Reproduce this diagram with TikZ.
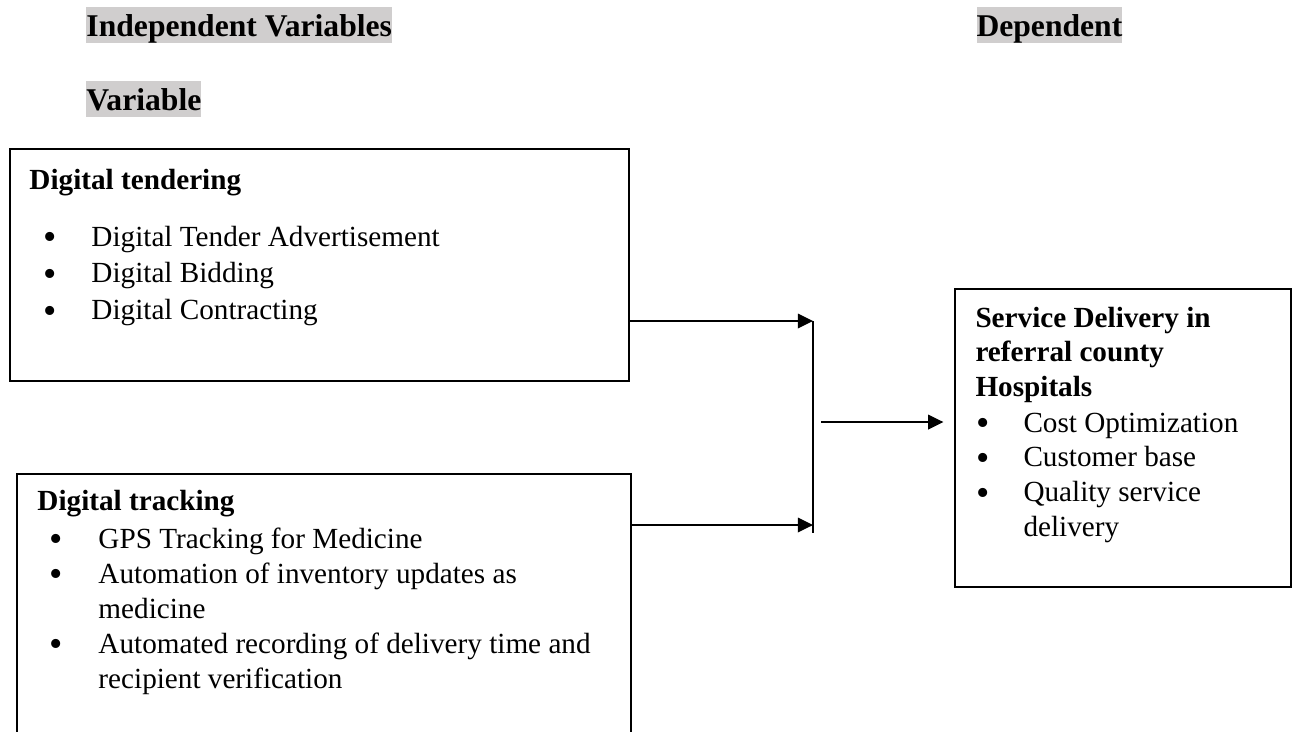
\documentclass[tikz,border=0pt]{standalone}
\usepackage{fontspec}
\setmainfont{Liberation Serif}
\usetikzlibrary{arrows.meta, positioning, fit}
\definecolor{hlgray}{RGB}{208,206,206}
\newlength\pxu
\setlength\pxu{0.411pt}
\newcommand{\bul}{\smash{\raisebox{-1.4pt}{\scalebox{1.3}{\textbullet}}}}

\begin{document}
\begin{tikzpicture}[x=0.411pt, y=-0.411pt,
    box/.style={draw, line width=0.6pt, inner sep=0pt},
    head/.style={fill=hlgray, font=\fontsize{13}{15}\selectfont\bfseries, inner sep=0pt, text height=11.9pt, text depth=2.9pt, anchor=base west},
    title/.style={inner sep=0pt, anchor=base west},
    list/.style={inner sep=0pt, anchor=base west},
    arr/.style={line width=0.6pt, -{Triangle[length=6.2pt, width=6pt]}}]
        \useasboundingbox (0,0) rectangle (1294,731);
        \clip (0,0) rectangle (1294,731);

        \node[head] at (86,36) (indep) {Independent Variables};
        \node[head] at (86,110) (var) {Variable};
        \node[head] at (976,36) (dep) {Dependent};

        \node[box, fit={(10,149) (629,381)}] (tender) {};
        \node[box, fit={(17,474) (631,760)}] (tracking) {};
        \node[box, fit={(955,289) (1291,587)}] (service) {};

        \node[title, font=\fontsize{12}{15.2}\selectfont\bfseries] at (29,189) (tenderhead) {Digital tendering};
        \node[list, font=\fontsize{12}{15.2}\selectfont] at (43,246) (tenderlist) {\begin{tabular}[t]{@{}p{48\pxu}@{}l@{}}
            \bul & Digital Tender Advertisement\\
            \bul & Digital Bidding\\
            \bul & Digital Contracting
        \end{tabular}};

        \node[title, font=\fontsize{12}{14.4}\selectfont\bfseries] at (37,510) (trackhead) {Digital tracking};
        \node[list, font=\fontsize{12}{14.4}\selectfont] at (49,548) (tracklist) {\begin{tabular}[t]{@{}p{49\pxu}@{}l@{}}
            \bul & GPS Tracking for Medicine\\
            \bul & Automation of inventory updates as\\
                 & medicine\\
            \bul & Automated recording of delivery time and\\
                 & recipient verification
        \end{tabular}};

        \node[title, font=\fontsize{12}{14.2}\selectfont\bfseries] at (975,327) (servicehead) {\begin{tabular}[t]{@{}l@{}}
            Service Delivery in\\
            referral county\\
            Hospitals
        \end{tabular}};
        \node[list, font=\fontsize{12}{14.3}\selectfont] at (976,432) (servicelist) {\begin{tabular}[t]{@{}p{47\pxu}@{}l@{}}
            \bul & Cost Optimization\\
            \bul & Customer base\\
            \bul & Quality service\\
                 & delivery
        \end{tabular}};

        \coordinate (jtop) at (813,321);
        \coordinate (jbot) at (813,525);
        \coordinate (jend) at (813,533);
        \coordinate (mid) at (821,422);

        \draw[arr] (tender.east |- jtop) -- (jtop);
        \draw[arr] (tracking.east |- jbot) -- (jbot);
        \draw[line width=0.6pt] (jtop) -- (jend);
        \draw[arr, shorten >=4.5pt] (mid) -- (service.west |- mid);
\end{tikzpicture}
\end{document}
